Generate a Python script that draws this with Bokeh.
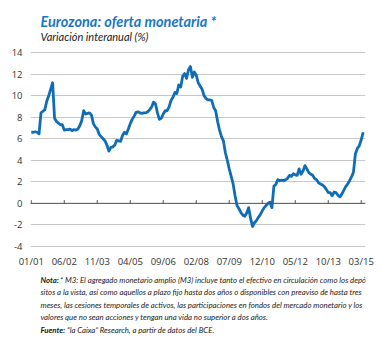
from bokeh.plotting import figure
from bokeh.models import Range1d, FixedTicker, Span, Label
from bokeh.layouts import column
from bokeh.embed import file_html
from bokeh.resources import INLINE

# Monthly year-on-year growth (%), Jan 2001 onwards
values = [
    6.6, 6.6, 6.65, 6.6, 6.45, 8.4, 8.55, 8.7, 9.5, 10.0,
    10.6, 11.2, 7.9, 7.6, 7.45, 7.3, 7.3, 6.8, 6.85, 6.85,
    6.9, 6.75, 6.85, 6.8, 6.9, 7.2, 7.7, 8.6, 8.3, 8.35,
    8.4, 8.2, 7.4, 7.1, 6.9, 6.4, 6.2, 6.0, 5.8, 5.4,
    4.85, 5.2, 5.25, 5.4, 5.85, 5.8, 5.75, 6.3, 6.6, 6.45,
    6.9, 7.4, 7.8, 8.1, 8.45, 8.5, 8.4, 8.35, 8.4, 8.4,
    8.5, 8.7, 8.95, 9.4, 9.25, 8.4, 7.8, 7.9, 8.3, 8.6,
    8.6, 8.95, 9.55, 9.85, 10.3, 10.2, 11.0, 10.8, 11.8, 12.05,
    11.6, 12.4, 12.7, 11.7, 12.2, 11.9, 11.2, 10.9, 10.6, 10.0,
    9.75, 9.6, 9.6, 9.55, 8.9, 8.6, 7.6, 6.8, 6.2, 5.8,
    4.7, 4.0, 3.2, 2.5, 1.8, 0.7, -0.2, -0.5, -0.85, -1.1,
    -1.2, -0.9, -0.4, -1.4, -2.15, -1.8, -1.6, -1.3, -1.05, -0.7,
    -0.4, -0.2, 0.0, 0.1, -0.4, 1.6, 1.75, 2.2, 2.1, 2.15,
    2.1, 2.2, 2.3, 2.6, 2.5, 2.75, 2.65, 2.6, 3.2, 2.7,
    3.0, 3.5, 3.2, 2.85, 2.7, 2.6, 2.3, 2.2, 1.9, 1.8,
    1.7, 1.55, 1.3, 1.0, 1.0, 0.7, 1.05, 1.0, 0.75, 0.6,
    0.85, 1.2, 1.55, 1.8, 2.1, 2.45, 2.9, 4.6, 5.1, 5.35,
    5.9, 6.6,
]
start_year, start_month = 2001, 1
tick_labels = ["01/01", "06/02", "11/03", "04/05", "09/06", "02/08",
               "07/09", "12/10", "05/12", "10/13", "03/15"]
y_ticks = [-4, -2, 0, 2, 4, 6, 8, 10, 12, 14]

title_text = "Eurozona: oferta monetaria *"
subtitle_text = "Variación interanual (%)"
note_lines = [
    ("Nota:", " * M3: El agregado monetario amplio (M3) incluye tanto el efectivo en circulación como los depó-"),
    ("", "sitos a la vista, así como aquellos a plazo fijo hasta dos años o disponibles con preaviso de hasta tres"),
    ("", "meses, las cesiones temporales de activos, las participaciones en fondos del mercado monetario y los"),
    ("", "valores que no sean acciones y tengan una vida no superior a dos años."),
    ("Fuente:", " \u201cla Caixa\u201d Research, a partir de datos del BCE."),
]

months = list(range(len(values)))


def label_to_index(lbl):
    mm, yy = lbl.split("/")
    return (2000 + int(yy) - start_year) * 12 + int(mm) - start_month


tick_pos = [label_to_index(l) for l in tick_labels]

W = 381
HEAD_H, CHART_H, FOOT_H = 45, 225, 68


def text_panel(height):
    f = figure(width=W, height=height, output_backend="svg", toolbar_location=None,
               x_range=Range1d(0, 1), y_range=Range1d(0, 1),
               min_border_left=0, min_border_right=0, min_border_top=0, min_border_bottom=0)
    f.axis.visible = False
    f.grid.visible = False
    f.outline_line_color = None
    f.background_fill_color = "white"
    f.border_fill_color = "white"
    return f


def put(f, height, x_px, baseline_px, text, font, style, size, color):
    f.add_layout(Label(x=x_px, y=height - baseline_px, x_units="screen", y_units="screen",
                       text=text, text_font=font, text_font_style=style,
                       text_font_size=size, text_color=color, text_baseline="alphabetic"))


# ---- header
head = text_panel(HEAD_H)
put(head, HEAD_H, 10, 20.5, title_text, "Lato", "bold italic", "14.5px", "#1a78c2")
put(head, HEAD_H, 10, 35.5, subtitle_text, "Lato", "italic", "11px", "#222222")

# ---- chart
p = figure(width=W, height=CHART_H, output_backend="svg", toolbar_location=None,
           x_range=Range1d(-0.4, 172.2), y_range=Range1d(-4.1, 14.1),
           min_border_left=30, min_border_right=16, min_border_top=6,
           min_border_bottom=23)
p.outline_line_color = None
p.background_fill_color = "white"
p.border_fill_color = "white"

LINE = "#0f6cb6"
TXT = "#333333"
NUMFONT = "Open Sans"

p.xaxis.ticker = FixedTicker(ticks=tick_pos)
p.xaxis.major_label_overrides = {t: l for t, l in zip(tick_pos, tick_labels)}
p.yaxis.ticker = FixedTicker(ticks=y_ticks)
p.yaxis.major_label_overrides = {t: str(t) for t in y_ticks}
for ax in (p.xaxis, p.yaxis):
    ax.axis_line_color = None
    ax.major_tick_line_color = None
    ax.minor_tick_line_color = None
    ax.major_tick_out = 0
    ax.major_tick_in = 0
    ax.major_label_text_font = NUMFONT
    ax.major_label_text_font_size = "9.5px"
    ax.major_label_text_color = TXT
p.xaxis.major_label_standoff = 7
p.yaxis.major_label_standoff = 8

p.xgrid.grid_line_color = None
p.ygrid.ticker = FixedTicker(ticks=y_ticks)
p.ygrid.grid_line_color = "#c8c8c8"
p.ygrid.grid_line_width = 1

p.add_layout(Span(location=0, dimension="width", line_color="#555555", line_width=1))
p.segment(x0=tick_pos, y0=[-0.05] * len(tick_pos), x1=tick_pos, y1=[0.3] * len(tick_pos),
          line_color="#555555", line_width=1)

p.line(months, values, line_color=LINE, line_width=2.8, line_join="round")

# ---- footer
foot = text_panel(FOOT_H)
NOTEFONT = "Lato"
NOTESIZE = "7.8px"
baselines = [9, 21.5, 34, 46.5, 59]
for (bold, rest), yb in zip(note_lines, baselines):
    x0 = 10
    if bold:
        put(foot, FOOT_H, x0, yb, bold, NOTEFONT, "bold italic", NOTESIZE, "#1a1a1a")
        x0 = 29.5 if bold == "Nota:" else 36.5
    put(foot, FOOT_H, x0, yb, rest, NOTEFONT, "italic", NOTESIZE, "#1a1a1a")

page = column(head, p, foot, spacing=0)
open("out.html", "w").write(file_html(page, INLINE))
